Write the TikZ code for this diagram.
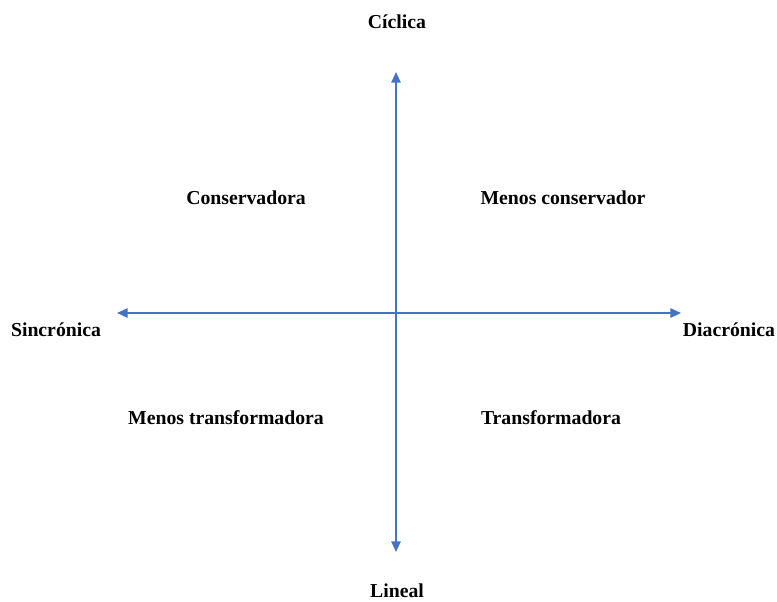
\documentclass[tikz,border=0pt]{standalone}
\usepackage{fontspec}
\setmainfont{Liberation Serif}
\definecolor{axisblue}{RGB}{68, 114, 196}
\usetikzlibrary{arrows.meta, positioning}

\begin{document}
\begin{tikzpicture}[
        x=0.75pt, y=-0.75pt,
        axis/.style={{Triangle[length=8pt, width=7pt]}-{Triangle[length=8pt, width=7pt]},
                     line width=1.3pt, axisblue},
        lbl/.style={font=\bfseries\fontsize{14.8}{16}\selectfont, inner sep=0pt}
      ]
        \useasboundingbox (0,0) rectangle (777,602);

        % axis ends
        \coordinate (top) at (396,72);
        \coordinate (bottom) at (396,552);
        \coordinate (left) at (117,313);
        \coordinate (right) at (681,313);

        \draw[axis] (bottom) -- (top);
        \draw[axis] (left) -- (right);

        % axis labels
        \node[lbl] (ciclica) at (397,22) {Cíclica};
        \node[lbl] (lineal) at (397,591) {Lineal};
        \node[lbl] (sincronica) at (56,330) {Sincrónica};
        \node[lbl] (diacronica) at (729,330) {Diacrónica};

        % quadrants
        \node[lbl] (conserv) at (246,198) {Conservadora};
        \node[lbl] (menoscons) at (563,198) {Menos conservador};
        \node[lbl] (menostrans) at (226,418) {Menos transformadora};
        \node[lbl] (transf) at (551,418) {Transformadora};
      \end{tikzpicture}
\end{document}
